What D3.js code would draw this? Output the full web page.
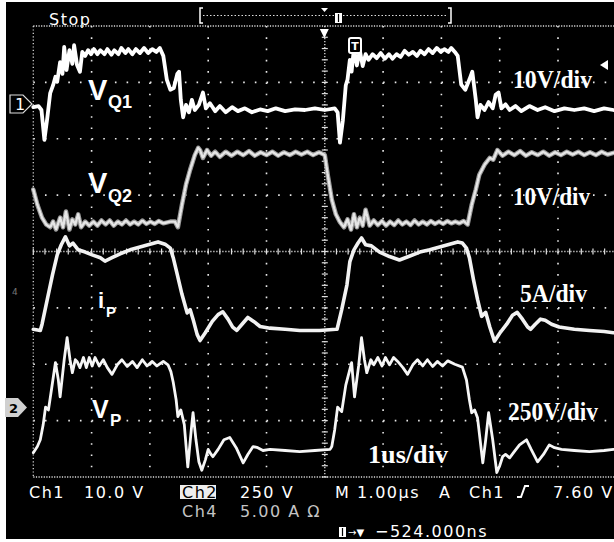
<!DOCTYPE html>
<html>
<head>
<meta charset="utf-8">
<script src="https://cdn.jsdelivr.net/npm/d3@7"></script>
<style>
  body { margin: 0; background: #fff; }
  svg { display: block; }
  .ro { font-family: "DejaVu Sans", sans-serif; font-size: 16px; letter-spacing: 1.5px; fill: #fff; }
  .tag { font-family: "Liberation Sans", Arial, sans-serif; font-weight: bold; fill: #fff; }
  .scl { font-family: "Liberation Serif", "Times New Roman", serif; font-weight: bold; font-size: 26px; fill: #fff; }
</style>
</head>
<body>
<div id="scope"></div>
<script>
// time in us (1us/div), level in screen divisions from the bottom line

var vq1 = [[0,6.56],[0.09,6.58],[0.14,6.51],[0.19,5.98],[0.24,6.37],[0.29,6.81],[0.34,6.95],[0.38,7.10],[0.41,7.01],[0.46,7.36],[0.50,7.15],[0.53,7.63],[0.57,7.22],[0.62,7.57],[0.67,7.33],[0.70,7.66],[0.75,7.31],[0.80,7.19],[0.84,7.54],[0.89,7.47],[0.94,7.57],[0.99,7.50],[1.04,7.59],[1.10,7.50],[1.15,7.57],[1.22,7.50],[1.27,7.59],[1.34,7.49],[1.39,7.57],[1.46,7.50],[1.51,7.61],[1.58,7.52],[1.63,7.59],[1.70,7.50],[1.76,7.59],[1.83,7.52],[1.90,7.61],[1.97,7.52],[2.04,7.59],[2.11,7.54],[2.17,7.61],[2.23,7.47],[2.29,7.05],[2.35,6.87],[2.41,6.90],[2.47,7.15],[2.50,7.19],[2.53,6.69],[2.57,6.38],[2.62,6.60],[2.67,6.47],[2.72,6.69],[2.77,6.51],[2.84,6.60],[2.91,6.82],[2.96,6.54],[3.03,6.63],[3.12,6.49],[3.20,6.58],[3.30,6.47],[3.41,6.56],[3.51,6.49],[3.63,6.54],[3.75,6.47],[3.89,6.52],[4.02,6.49],[4.16,6.54],[4.32,6.49],[4.49,6.52],[4.66,6.51],[4.83,6.54],[5.00,6.51],[5.17,6.54],
  [5.22,6.47],[5.26,5.93],[5.31,6.33],[5.36,6.95],[5.39,7.05],[5.43,7.40],[5.46,7.19],[5.50,7.61],[5.55,7.30],[5.60,7.57],[5.65,7.29],[5.70,7.50],[5.75,7.40],[5.82,7.50],[5.89,7.43],[5.96,7.52],[6.03,7.42],[6.10,7.50],[6.16,7.42],[6.23,7.50],[6.30,7.45],[6.37,7.56],[6.44,7.49],[6.51,7.54],[6.58,7.47],[6.64,7.56],[6.71,7.50],[6.78,7.59],[6.85,7.52],[6.92,7.61],[6.99,7.54],[7.05,7.59],[7.12,7.54],[7.17,7.61],[7.23,7.54],[7.28,7.47],[7.34,6.96],[7.41,6.87],[7.48,7.05],[7.53,7.19],[7.59,6.69],[7.62,6.38],[7.67,6.60],[7.74,6.51],[7.81,6.65],[7.88,6.54],[7.93,6.78],[7.98,6.82],[8.03,6.54],[8.10,6.61],[8.17,6.51],[8.27,6.58],[8.37,6.49],[8.51,6.58],[8.65,6.51],[8.78,6.56],[8.94,6.49],[9.11,6.54],[9.28,6.51],[9.45,6.54],[9.62,6.49],[9.79,6.54],[9.95,6.51]];

var vq2 = [[0,5.10],[0.07,4.83],[0.15,4.60],[0.22,4.48],[0.29,4.43],[0.34,4.53],[0.39,4.39],[0.46,4.60],[0.51,4.43],[0.56,4.71],[0.62,4.39],[0.67,4.57],[0.72,4.48],[0.77,4.66],[0.82,4.43],[0.89,4.53],[0.96,4.46],[1.03,4.53],[1.10,4.46],[1.17,4.55],[1.24,4.48],[1.31,4.55],[1.38,4.46],[1.45,4.53],[1.52,4.48],[1.59,4.55],[1.66,4.48],[1.73,4.53],[1.80,4.48],[1.87,4.55],[1.94,4.49],[2.01,4.53],[2.08,4.49],[2.15,4.54],[2.23,4.50],[2.35,4.53],[2.43,4.53],[2.48,4.43],[2.55,4.83],[2.62,5.19],[2.69,5.45],[2.77,5.71],[2.83,5.84],[2.86,5.80],[2.91,5.66],[2.98,5.80],[3.05,5.70],[3.12,5.77],[3.20,5.68],[3.30,5.77],[3.40,5.70],[3.50,5.77],[3.60,5.71],[3.70,5.78],[3.80,5.70],[3.90,5.76],[4.00,5.71],[4.10,5.77],[4.20,5.70],[4.30,5.76],[4.40,5.71],[4.50,5.77],[4.60,5.72],[4.70,5.77],[4.80,5.71],[4.90,5.76],[5.00,5.71],
  [5.05,5.36],[5.12,4.92],[5.19,4.66],[5.26,4.52],[5.33,4.43],[5.39,4.57],[5.45,4.39],[5.50,4.66],[5.55,4.43],[5.60,4.60],[5.65,4.46],[5.70,4.74],[5.77,4.46],[5.84,4.55],[5.91,4.47],[5.98,4.54],[6.05,4.46],[6.12,4.53],[6.19,4.47],[6.26,4.55],[6.33,4.48],[6.40,4.53],[6.47,4.47],[6.54,4.55],[6.61,4.48],[6.68,4.53],[6.75,4.48],[6.82,4.54],[6.89,4.49],[6.96,4.53],[7.03,4.49],[7.10,4.54],[7.17,4.50],[7.24,4.53],[7.31,4.50],[7.38,4.54],[7.45,4.48],[7.52,4.83],[7.59,5.10],[7.65,5.36],[7.74,5.54],[7.83,5.66],[7.89,5.63],[7.96,5.80],[8.05,5.70],[8.15,5.77],[8.25,5.71],[8.35,5.78],[8.45,5.70],[8.55,5.76],[8.65,5.71],[8.75,5.77],[8.85,5.70],[8.95,5.76],[9.05,5.71],[9.15,5.77],[9.25,5.72],[9.35,5.77],[9.45,5.71],[9.55,5.76],[9.65,5.71],[9.75,5.77],[9.85,5.72],[9.95,5.75]];

var ip = [[0,2.62],[0.12,2.60],[0.15,2.71],[0.24,3.15],[0.33,3.59],[0.41,3.94],[0.48,4.12],[0.55,4.26],[0.62,4.10],[0.68,4.15],[0.77,4.03],[0.89,3.99],[1.01,3.94],[1.15,3.89],[1.23,3.83],[1.35,3.89],[1.49,3.96],[1.66,4.03],[1.83,4.08],[2.00,4.13],[2.14,4.17],[2.26,4.13],[2.35,4.06],[2.40,3.89],[2.47,3.59],[2.55,3.24],[2.64,2.91],[2.69,2.97],[2.74,2.80],[2.81,2.53],[2.86,2.42],[2.95,2.56],[3.07,2.76],[3.17,2.88],[3.25,2.93],[3.34,2.80],[3.42,2.66],[3.49,2.60],[3.58,2.71],[3.68,2.83],[3.78,2.76],[3.89,2.67],[4.06,2.64],[4.32,2.62],[4.57,2.60],[4.91,2.60],[5.19,2.62],
  [5.21,2.62],[5.29,2.97],[5.38,3.41],[5.43,3.82],[5.50,4.03],[5.57,4.15],[5.63,4.24],[5.70,4.12],[5.80,4.10],[5.94,3.99],[6.11,3.91],[6.28,3.85],[6.46,3.92],[6.63,3.99],[6.80,4.03],[6.97,4.08],[7.14,4.13],[7.28,4.17],[7.36,4.15],[7.43,4.06],[7.48,3.89],[7.55,3.50],[7.62,3.15],[7.69,2.85],[7.76,2.92],[7.83,2.66],[7.91,2.41],[8.00,2.55],[8.12,2.71],[8.22,2.87],[8.30,2.92],[8.39,2.80],[8.48,2.66],[8.53,2.62],[8.61,2.71],[8.70,2.80],[8.78,2.78],[8.89,2.71],[9.02,2.66],[9.28,2.62],[9.54,2.60],[9.79,2.58],[9.95,2.56]];

var vp = [[0,0.43],[0.07,0.54],[0.12,0.66],[0.17,0.93],[0.21,1.24],[0.26,1.19],[0.31,1.54],[0.38,2.03],[0.43,1.72],[0.46,1.42],[0.53,2.08],[0.58,2.47],[0.63,2.08],[0.67,1.85],[0.72,2.08],[0.75,2.05],[0.80,1.94],[0.86,2.12],[0.91,1.94],[0.96,2.12],[1.01,1.97],[1.06,2.12],[1.13,1.97],[1.20,2.08],[1.27,1.94],[1.35,1.82],[1.44,1.99],[1.52,2.08],[1.61,1.96],[1.70,2.05],[1.78,1.94],[1.87,2.08],[1.95,1.97],[2.04,2.05],[2.12,1.97],[2.23,2.05],[2.31,1.99],[2.36,1.87],[2.40,1.68],[2.45,1.37],[2.48,1.07],[2.53,1.19],[2.59,0.93],[2.65,0.18],[2.71,0.84],[2.74,1.14],[2.79,0.66],[2.84,0.27],[2.89,0.12],[2.95,0.30],[3.00,0.49],[3.05,0.40],[3.08,0.36],[3.17,0.49],[3.27,0.66],[3.37,0.70],[3.48,0.52],[3.60,0.25],[3.68,0.40],[3.77,0.54],[3.85,0.52],[3.94,0.47],[4.06,0.49],[4.32,0.47],[4.57,0.45],[4.83,0.47],[5.09,0.49],
  [5.12,0.54],[5.17,0.84],[5.22,1.24],[5.29,1.16],[5.36,1.63],[5.46,2.03],[5.51,1.42],[5.58,1.97],[5.63,2.47],[5.68,2.08],[5.72,1.85],[5.79,2.08],[5.84,1.99],[5.91,2.12],[5.98,1.97],[6.04,2.12],[6.11,1.99],[6.18,2.12],[6.25,2.05],[6.34,1.94],[6.42,1.82],[6.51,1.99],[6.59,2.08],[6.68,1.97],[6.76,2.08],[6.85,1.96],[6.93,2.05],[7.02,1.97],[7.11,2.06],[7.23,2.00],[7.36,1.95],[7.43,1.72],[7.48,1.37],[7.52,1.14],[7.57,1.19],[7.62,1.05],[7.71,0.25],[7.76,0.66],[7.81,1.14],[7.88,0.66],[7.95,0.08],[8.00,0.20],[8.05,0.36],[8.10,0.40],[8.17,0.34],[8.25,0.45],[8.34,0.57],[8.46,0.66],[8.54,0.49],[8.65,0.27],[8.75,0.40],[8.85,0.57],[8.94,0.52],[9.06,0.49],[9.28,0.47],[9.54,0.45],[9.79,0.47],[9.95,0.49]];

// text on the picture
var traceNames = ["V", "V", "i", "V"];
var traceSubs = ["Q1", "Q2", "P", "P"];
var scaleLabels = ["10V/div", "10V/div", "5A/div", "250V/div"];
var timeLabel = "1us/div";
var statusText = "Stop";
var readoutRow1 = ["Ch1", "10.0 V", "Ch2", "250 V", "M 1.00\u00b5s", "A", "Ch1", "7.60 V"];
var readoutRow2 = ["Ch4", "5.00 A \u03a9"];
var delayText = "\u2212524.000ns";

var svgWidth = 614;
var svgHeight = 542;

var svg = d3
.select("#scope")
.append("svg")
.attr("width", svgWidth)
.attr("height", svgHeight);

// black screen, white paper edge left and bottom
svg.append("rect")
.attr("x", 6)
.attr("y", 2)
.attr("width", svgWidth - 6)
.attr("height", 537)
.attr("fill", "#000");

// 10 x 8 divisions, right border just off the picture
var xScale = d3.scaleLinear().domain([0, 10]).range([33.3, 616.3]);
var yScale = d3.scaleLinear().domain([0, 8]).range([477, 26]);

var minorX = (xScale(1) - xScale(0)) / 5;
var minorY = (yScale(0) - yScale(1)) / 5;

var grid = svg.append("g");

// dotted division lines
grid.selectAll(".vline")
.data(d3.range(1, 10).filter(d => d !== 5))
.enter()
.append("line")
.attr("x1", d => xScale(d))
.attr("x2", d => xScale(d))
.attr("y1", yScale(8))
.attr("y2", yScale(0))
.attr("stroke", "#e8e8e8")
.attr("stroke-width", 1.6)
.attr("stroke-dasharray", `1.6 ${minorY - 1.6}`);

grid.selectAll(".hline")
.data(d3.range(1, 8).filter(d => d !== 4))
.enter()
.append("line")
.attr("x1", xScale(0))
.attr("x2", xScale(10))
.attr("y1", d => yScale(d))
.attr("y2", d => yScale(d))
.attr("stroke", "#e8e8e8")
.attr("stroke-width", 1.6)
.attr("stroke-dasharray", `1.6 ${minorX - 1.6}`);

// border lines, denser dots
grid.selectAll(".border")
.data([0, 8])
.enter()
.append("line")
.attr("x1", xScale(0))
.attr("x2", xScale(10))
.attr("y1", d => yScale(d))
.attr("y2", d => yScale(d))
.attr("stroke", "#dcdcdc")
.attr("stroke-width", 1.3)
.attr("stroke-dasharray", "1.2 1.4");

grid.append("line")
.attr("x1", xScale(0))
.attr("x2", xScale(0))
.attr("y1", yScale(8))
.attr("y2", yScale(0))
.attr("stroke", "#cfcfcf")
.attr("stroke-width", 1.3)
.attr("stroke-dasharray", "1.2 2.2");

// centre cross with minor ticks
grid.append("line")
.attr("x1", xScale(5))
.attr("x2", xScale(5))
.attr("y1", yScale(8))
.attr("y2", yScale(0))
.attr("stroke", "#e0e0e0")
.attr("stroke-width", 1.3)
.attr("stroke-dasharray", "1.2 1.8");

grid.append("line")
.attr("x1", xScale(0))
.attr("x2", xScale(10))
.attr("y1", yScale(4))
.attr("y2", yScale(4))
.attr("stroke", "#e0e0e0")
.attr("stroke-width", 1.3)
.attr("stroke-dasharray", "1.2 1.8");

grid.selectAll(".xtick")
.data(d3.range(0, 50))
.enter()
.append("line")
.attr("x1", d => xScale(0) + d * minorX)
.attr("x2", d => xScale(0) + d * minorX)
.attr("y1", yScale(4) - 3)
.attr("y2", yScale(4) + 3)
.attr("stroke", "#e0e0e0")
.attr("stroke-width", 1.2);

grid.selectAll(".ytick")
.data(d3.range(0, 40))
.enter()
.append("line")
.attr("x1", xScale(5) - 3)
.attr("x2", xScale(5) + 3)
.attr("y1", d => yScale(0) - d * minorY)
.attr("y2", d => yScale(0) - d * minorY)
.attr("stroke", "#e0e0e0")
.attr("stroke-width", 1.2);

// traces
var line = d3.line()
.x(d => xScale(d[0]))
.y(d => yScale(d[1]));

var traces = svg.append("g")
.attr("fill", "none")
.attr("stroke-linejoin", "round")
.attr("stroke-linecap", "round");

traces.append("path")
.attr("d", line(vq2))
.attr("stroke", "#9a9a9a")
.attr("stroke-width", 4.5);

traces.append("path")
.attr("d", line(vq2))
.attr("stroke", "#e6e6e6")
.attr("stroke-width", 2.4)
.attr("stroke-dasharray", "2 1.6");

traces.append("path")
.attr("d", line(ip))
.attr("stroke", "#f2f2f2")
.attr("stroke-width", 3.6);

traces.append("path")
.attr("d", line(vp))
.attr("stroke", "#f6f6f6")
.attr("stroke-width", 2.8);

traces.append("path")
.attr("d", line(vq1))
.attr("stroke", "#fff")
.attr("stroke-width", 3.8);

// trace names with subscripts
var namePos = [[88, 100, 29], [88, 193, 29], [98, 308, 22], [92, 418, 25]];
var subPos = [[108, 108, 18], [108, 202, 18], [106, 317, 15], [110, 426, 17]];

traceNames.forEach(function(name, i) {
  svg.append("text")
  .attr("class", "tag")
  .attr("x", namePos[i][0])
  .attr("y", namePos[i][1])
  .attr("font-size", namePos[i][2])
  .text(name);

  svg.append("text")
  .attr("class", "tag")
  .attr("x", subPos[i][0])
  .attr("y", subPos[i][1])
  .attr("font-size", subPos[i][2])
  .text(traceSubs[i]);
});

// volts per division labels
var scalePos = [[513, 88, 79], [513, 205, 77], [520, 302, 67], [508, 420, 90]];

scaleLabels.forEach(function(lab, i) {
  svg.append("text")
  .attr("class", "scl")
  .attr("x", scalePos[i][0])
  .attr("y", scalePos[i][1])
  .attr("textLength", scalePos[i][2])
  .attr("lengthAdjust", "spacingAndGlyphs")
  .text(lab);
});

svg.append("text")
.attr("class", "scl")
.attr("x", 368)
.attr("y", 463)
.attr("textLength", 80)
.attr("lengthAdjust", "spacingAndGlyphs")
.text(timeLabel);

// channel ground markers on the left
svg.append("path")
.attr("d", "M10,95H23L32,104L23,113H10Z")
.attr("fill", "none")
.attr("stroke", "#ddd")
.attr("stroke-width", 1.2);

svg.append("text")
.attr("class", "ro")
.attr("x", 15)
.attr("y", 110)
.attr("font-size", 13)
.text("1");

svg.append("path")
.attr("d", "M5,398H18L27,407.5L18,417H5Z")
.attr("fill", "#d0d0d0");

svg.append("text")
.attr("x", 9)
.attr("y", 413)
.attr("font-family", "DejaVu Sans, sans-serif")
.attr("font-weight", "bold")
.attr("font-size", 13)
.attr("fill", "#000")
.text("2");

svg.append("text")
.attr("x", 12)
.attr("y", 295)
.attr("font-family", "DejaVu Sans, sans-serif")
.attr("font-size", 9)
.attr("fill", "#777")
.text("4");

// trigger markers
svg.append("path")
.attr("d", `M${xScale(5) - 5},29L${xScale(5) + 4},29L${xScale(5) - 0.5},38Z`)
.attr("fill", "#fff");

svg.append("path")
.attr("d", "M600,65L608,60L608,70Z")
.attr("fill", "#fff");

svg.append("rect")
.attr("x", 349)
.attr("y", 38)
.attr("width", 12)
.attr("height", 15)
.attr("rx", 2)
.attr("fill", "#000")
.attr("stroke", "#fff")
.attr("stroke-width", 2);

svg.append("text")
.attr("x", 355)
.attr("y", 50)
.attr("text-anchor", "middle")
.attr("font-family", "DejaVu Sans, sans-serif")
.attr("font-weight", "bold")
.attr("font-size", 11)
.attr("fill", "#fff")
.text("T");

// top status line and record bar
svg.append("text")
.attr("class", "ro")
.attr("x", 49)
.attr("y", 25)
.attr("font-size", 19)
.attr("letter-spacing", 0.5)
.text(statusText);

svg.append("path")
.attr("d", "M203,8H200V23H203M448,8H451V23H448")
.attr("fill", "none")
.attr("stroke", "#fff")
.attr("stroke-width", 1.5);

svg.append("line")
.attr("x1", 203)
.attr("x2", 448)
.attr("y1", 15.5)
.attr("y2", 15.5)
.attr("stroke", "#ddd")
.attr("stroke-width", 1.2)
.attr("stroke-dasharray", "1.5 2");

svg.append("rect")
.attr("x", 335)
.attr("y", 13)
.attr("width", 7)
.attr("height", 10)
.attr("fill", "#fff");

svg.append("line")
.attr("x1", 338.5)
.attr("x2", 338.5)
.attr("y1", 14)
.attr("y2", 22)
.attr("stroke", "#000")
.attr("stroke-width", 1.2);

svg.append("path")
.attr("d", "M321,8L328,8L324.5,12Z")
.attr("fill", "#fff");

// bottom readouts
var row1X = [29, 84, 182, 240, 335, 439, 469, 553];

readoutRow1.forEach(function(txt, i) {
  if (i === 2) {
    svg.append("rect")
    .attr("x", 180)
    .attr("y", 485)
    .attr("width", 36)
    .attr("height", 14)
    .attr("fill", "#eee");
  }
  svg.append("text")
  .attr("class", "ro")
  .attr("x", row1X[i])
  .attr("y", 498)
  .attr("letter-spacing", i === 7 ? 0.8 : null)
  .style("fill", i === 2 ? "#000" : "#fff")
  .text(txt);
});

// rising edge symbol
svg.append("path")
.attr("d", "M517,497H521L525,486H529")
.attr("fill", "none")
.attr("stroke", "#fff")
.attr("stroke-width", 2);

var row2X = [182, 240];

readoutRow2.forEach(function(txt, i) {
  svg.append("text")
  .attr("class", "ro")
  .attr("x", row2X[i])
  .attr("y", 517)
  .style("fill", "#c4c4c4")
  .text(txt);
});

svg.append("rect")
.attr("x", 339)
.attr("y", 527)
.attr("width", 7)
.attr("height", 10)
.attr("fill", "#fff");

svg.append("line")
.attr("x1", 342.5)
.attr("x2", 342.5)
.attr("y1", 528)
.attr("y2", 536)
.attr("stroke", "#000")
.attr("stroke-width", 1.2);

svg.append("text")
.attr("x", 348)
.attr("y", 536)
.attr("font-family", "DejaVu Sans, sans-serif")
.attr("font-size", 10)
.attr("fill", "#fff")
.text("\u2192\u25bc");

svg.append("text")
.attr("class", "ro")
.attr("x", 375)
.attr("y", 537)
.attr("letter-spacing", 2.2)
.text(delayText);
</script>
</body>
</html>
